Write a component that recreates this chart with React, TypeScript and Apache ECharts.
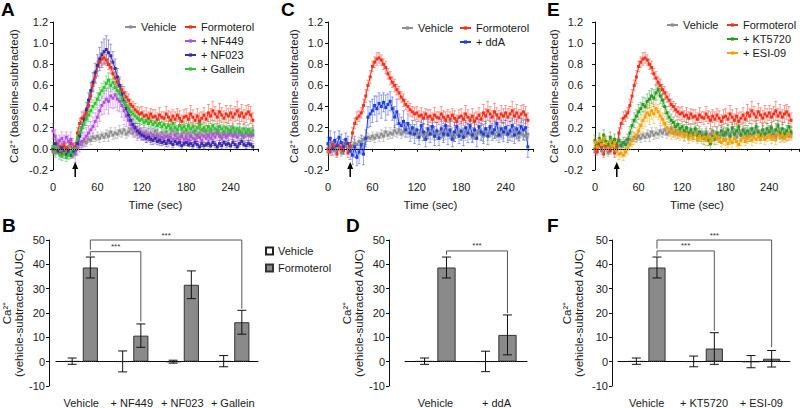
import React, { useEffect, useRef } from "react";
import * as echarts from "echarts";

// ---------- time-course data (Ca2+, baseline-subtracted) ----------
const timeSec = [
  0, 3, 6, 9, 12, 15, 18, 21, 24, 27,
  30, 33, 36, 39, 42, 45, 48, 51, 54, 57,
  60, 63, 66, 69, 72, 75, 78, 81, 84, 87,
  90, 93, 96, 99, 102, 105, 108, 111, 114, 117,
  120, 123, 126, 129, 132, 135, 138, 141, 144, 147,
  150, 153, 156, 159, 162, 165, 168, 171, 174, 177,
  180, 183, 186, 189, 192, 195, 198, 201, 204, 207,
  210, 213, 216, 219, 222, 225, 228, 231, 234, 237,
  240, 243, 246, 249, 252, 255, 258, 261, 264, 267,
  270,
];

const vehicle = [
  -0.03, 0.02, 0.05, -0.02, 0.03, 0.0, -0.04, 0.02, 0.04, -0.01,
  0.0, 0.03, 0.05, 0.04, 0.07, 0.06, 0.09, 0.08, 0.11, 0.1,
  0.12, 0.1, 0.13, 0.11, 0.14, 0.12, 0.16, 0.13, 0.15, 0.14,
  0.17, 0.15, 0.18, 0.14, 0.16, 0.19, 0.15, 0.17, 0.14, 0.16,
  0.15, 0.13, 0.16, 0.12, 0.15, 0.13, 0.17, 0.14, 0.12, 0.15,
  0.13, 0.16, 0.12, 0.14, 0.17, 0.13, 0.15, 0.11, 0.14, 0.16,
  0.13, 0.15, 0.12, 0.16, 0.14, 0.11, 0.15, 0.13, 0.17, 0.14,
  0.12, 0.16, 0.13, 0.15, 0.18, 0.14, 0.12, 0.16, 0.13, 0.15,
  0.17, 0.13, 0.15, 0.12, 0.16, 0.14, 0.11, 0.15, 0.13, 0.12,
  0.14,
];
const vehicleErr = [
  0.03, 0.04, 0.03, 0.03, 0.04, 0.03, 0.03, 0.04, 0.03, 0.03,
  0.03, 0.04, 0.04, 0.03, 0.04, 0.04, 0.03, 0.04, 0.04, 0.03,
  0.04, 0.04, 0.03, 0.04, 0.04, 0.05, 0.04, 0.04, 0.05, 0.04,
  0.05, 0.04, 0.05, 0.04, 0.04, 0.05, 0.04, 0.05, 0.04, 0.04,
  0.04, 0.05, 0.04, 0.04, 0.05, 0.04, 0.04, 0.05, 0.04, 0.04,
  0.04, 0.05, 0.04, 0.05, 0.04, 0.04, 0.05, 0.04, 0.04, 0.05,
  0.04, 0.05, 0.04, 0.04, 0.05, 0.04, 0.05, 0.04, 0.04, 0.05,
  0.05, 0.04, 0.05, 0.04, 0.05, 0.04, 0.04, 0.05, 0.04, 0.05,
  0.04, 0.05, 0.04, 0.05, 0.04, 0.05, 0.04, 0.04, 0.05, 0.04,
  0.04,
];

const formoterol = [
  0.0, -0.03, 0.04, 0.02, -0.05, 0.03, 0.01, -0.02, 0.05, -0.04,
  0.02, 0.15, 0.24, 0.29, 0.31, 0.34, 0.41, 0.5, 0.6, 0.68,
  0.78, 0.82, 0.85, 0.86, 0.84, 0.8, 0.77, 0.71, 0.67, 0.63,
  0.6, 0.56, 0.53, 0.49, 0.46, 0.42, 0.4, 0.37, 0.35, 0.33,
  0.34, 0.31, 0.32, 0.29, 0.33, 0.3, 0.31, 0.28, 0.32, 0.3,
  0.29, 0.33, 0.3, 0.27, 0.31, 0.28, 0.32, 0.29, 0.26, 0.3,
  0.31, 0.28, 0.33, 0.3, 0.27, 0.31, 0.26, 0.29, 0.32, 0.28,
  0.34, 0.31, 0.36, 0.33, 0.3, 0.35, 0.32, 0.29, 0.33, 0.31,
  0.34, 0.3, 0.33, 0.36, 0.31, 0.34, 0.3, 0.33, 0.35, 0.32,
  0.27,
];
const formoterolErr = [
  0.03, 0.03, 0.03, 0.04, 0.03, 0.03, 0.04, 0.03, 0.03, 0.04,
  0.04, 0.05, 0.05, 0.06, 0.05, 0.05, 0.06, 0.06, 0.05, 0.06,
  0.05, 0.05, 0.06, 0.05, 0.05, 0.05, 0.06, 0.05, 0.06, 0.05,
  0.06, 0.05, 0.06, 0.05, 0.06, 0.05, 0.05, 0.06, 0.05, 0.06,
  0.06, 0.05, 0.07, 0.06, 0.05, 0.07, 0.06, 0.06, 0.07, 0.05,
  0.06, 0.07, 0.06, 0.08, 0.06, 0.07, 0.06, 0.07, 0.06, 0.07,
  0.07, 0.06, 0.08, 0.07, 0.06, 0.07, 0.08, 0.06, 0.07, 0.06,
  0.08, 0.07, 0.09, 0.07, 0.06, 0.08, 0.07, 0.07, 0.08, 0.07,
  0.07, 0.08, 0.07, 0.09, 0.07, 0.08, 0.07, 0.08, 0.07, 0.08,
  0.07,
];

const nf449 = [
  0.17, 0.12, 0.03, 0.08, 0.1, 0.06, 0.11, 0.07, 0.09, 0.04,
  -0.05, 0.0, 0.04, 0.07, 0.09, 0.12, 0.15, 0.18, 0.21, 0.26,
  0.3, 0.36, 0.41, 0.44, 0.47, 0.45, 0.5, 0.48, 0.51, 0.47,
  0.45, 0.41, 0.36, 0.31, 0.27, 0.23, 0.21, 0.18, 0.16, 0.17,
  0.14, 0.15, 0.12, 0.13, 0.11, 0.13, 0.1, 0.12, 0.09, 0.11,
  0.1, 0.12, 0.08, 0.11, 0.09, 0.13, 0.1, 0.08, 0.12, 0.09,
  0.11, 0.08, 0.12, 0.1, 0.09, 0.13, 0.11, 0.08, 0.12, 0.1,
  0.13, 0.1, 0.14, 0.11, 0.15, 0.12, 0.1, 0.14, 0.11, 0.13,
  0.15, 0.12, 0.14, 0.11, 0.16, 0.13, 0.12, 0.15, 0.13, 0.14,
  0.13,
];
const nf449Err = [
  0.07, 0.06, 0.07, 0.05, 0.06, 0.07, 0.05, 0.06, 0.07, 0.06,
  0.08, 0.06, 0.07, 0.06, 0.07, 0.08, 0.07, 0.08, 0.09, 0.08,
  0.09, 0.1, 0.09, 0.11, 0.1, 0.12, 0.11, 0.1, 0.12, 0.11,
  0.1, 0.11, 0.09, 0.1, 0.08, 0.09, 0.08, 0.07, 0.08, 0.07,
  0.06, 0.07, 0.06, 0.06, 0.07, 0.06, 0.05, 0.06, 0.06, 0.05,
  0.06, 0.05, 0.06, 0.06, 0.05, 0.06, 0.05, 0.06, 0.05, 0.06,
  0.06, 0.05, 0.06, 0.05, 0.06, 0.06, 0.05, 0.06, 0.05, 0.06,
  0.06, 0.07, 0.06, 0.05, 0.07, 0.06, 0.06, 0.07, 0.06, 0.05,
  0.06, 0.07, 0.06, 0.06, 0.07, 0.06, 0.05, 0.07, 0.06, 0.06,
  0.06,
];

const nf023 = [
  0.0, 0.05, -0.02, -0.04, 0.01, -0.03, -0.05, -0.02, -0.06, -0.03,
  -0.01, 0.05, 0.12, 0.2, 0.28, 0.37, 0.46, 0.55, 0.63, 0.72,
  0.79, 0.85, 0.89, 0.92, 0.94, 0.91, 0.88, 0.82, 0.76, 0.68,
  0.6, 0.52, 0.45, 0.38, 0.32, 0.27, 0.23, 0.2, 0.17, 0.15,
  0.13, 0.12, 0.1, 0.11, 0.09, 0.08, 0.1, 0.07, 0.08, 0.06,
  0.07, 0.05, 0.08, 0.06, 0.04, 0.07, 0.05, 0.06, 0.03, 0.05,
  0.06, 0.04, 0.05, 0.03, 0.06, 0.04, 0.02, 0.05, 0.03, 0.04,
  0.05, 0.03, 0.06, 0.04, 0.02, 0.05, 0.03, 0.06, 0.04, 0.05,
  0.03, 0.06, 0.04, 0.02, 0.05, 0.07, 0.04, 0.03, 0.05, 0.04,
  0.02,
];
const nf023Err = [
  0.03, 0.04, 0.03, 0.03, 0.04, 0.03, 0.04, 0.03, 0.03, 0.04,
  0.03, 0.04, 0.05, 0.05, 0.06, 0.07, 0.07, 0.08, 0.09, 0.09,
  0.1, 0.11, 0.12, 0.12, 0.13, 0.12, 0.11, 0.1, 0.09, 0.08,
  0.08, 0.07, 0.06, 0.06, 0.05, 0.05, 0.05, 0.04, 0.04, 0.04,
  0.04, 0.03, 0.04, 0.03, 0.03, 0.04, 0.03, 0.03, 0.03, 0.03,
  0.03, 0.03, 0.03, 0.02, 0.03, 0.03, 0.02, 0.03, 0.03, 0.02,
  0.03, 0.02, 0.03, 0.03, 0.02, 0.03, 0.02, 0.03, 0.03, 0.02,
  0.03, 0.02, 0.03, 0.03, 0.02, 0.03, 0.03, 0.02, 0.03, 0.03,
  0.02, 0.03, 0.03, 0.02, 0.03, 0.03, 0.02, 0.03, 0.03, 0.02,
  0.03,
];

const gallein = [
  0.02, -0.03, 0.01, -0.05, -0.07, -0.04, -0.08, -0.06, -0.03, -0.05,
  0.0, 0.1, 0.16, 0.2, 0.24, 0.28, 0.32, 0.36, 0.4, 0.43,
  0.47, 0.52, 0.55, 0.58, 0.62, 0.65, 0.6, 0.63, 0.58, 0.55,
  0.52, 0.48, 0.44, 0.41, 0.38, 0.35, 0.33, 0.31, 0.29, 0.27,
  0.28, 0.25, 0.27, 0.24, 0.26, 0.23, 0.25, 0.22, 0.24, 0.21,
  0.23, 0.2, 0.22, 0.19, 0.24, 0.2, 0.18, 0.22, 0.19, 0.21,
  0.18, 0.22, 0.19, 0.21, 0.17, 0.2, 0.23, 0.18, 0.2, 0.17,
  0.21, 0.18, 0.22, 0.19, 0.17, 0.21, 0.19, 0.16, 0.2, 0.18,
  0.17, 0.2, 0.16, 0.19, 0.17, 0.15, 0.19, 0.16, 0.18, 0.15,
  0.17,
];
const galleinErr = [
  0.04, 0.05, 0.04, 0.05, 0.04, 0.05, 0.04, 0.04, 0.05, 0.04,
  0.05, 0.05, 0.05, 0.06, 0.05, 0.06, 0.06, 0.05, 0.06, 0.06,
  0.06, 0.06, 0.07, 0.06, 0.07, 0.07, 0.06, 0.07, 0.06, 0.06,
  0.06, 0.06, 0.05, 0.06, 0.05, 0.05, 0.06, 0.05, 0.05, 0.05,
  0.05, 0.05, 0.04, 0.05, 0.05, 0.04, 0.05, 0.05, 0.04, 0.05,
  0.05, 0.04, 0.05, 0.04, 0.05, 0.05, 0.04, 0.05, 0.04, 0.05,
  0.04, 0.05, 0.05, 0.04, 0.05, 0.04, 0.05, 0.05, 0.04, 0.05,
  0.05, 0.04, 0.05, 0.05, 0.04, 0.05, 0.04, 0.05, 0.05, 0.04,
  0.05, 0.04, 0.05, 0.05, 0.04, 0.05, 0.05, 0.04, 0.05, 0.04,
  0.05,
];

const ddA = [
  0.05, 0.1, 0.0, 0.08, 0.03, 0.11, 0.06, 0.02, 0.09, 0.05,
  -0.02, -0.06, 0.02, -0.08, -0.03, 0.04, -0.05, 0.1, 0.3, 0.33,
  0.36, 0.41, 0.38, 0.43, 0.4, 0.44, 0.39, 0.42, 0.45, 0.38,
  0.3, 0.35, 0.24, 0.22, 0.26, 0.18, 0.24, 0.15, 0.2, 0.14,
  0.18, 0.11, 0.22, 0.16, 0.09, 0.19, 0.14, 0.21, 0.12, 0.17,
  0.1, 0.19, 0.14, 0.22, 0.13, 0.18, 0.09, 0.16, 0.21, 0.12,
  0.17, 0.11, 0.2, 0.15, 0.22, 0.13, 0.18, 0.1, 0.21, 0.16,
  0.14, 0.19, 0.12, 0.21, 0.15, 0.18, 0.24, 0.13, 0.19, 0.16,
  0.2, 0.14, 0.17, 0.22, 0.13, 0.19, 0.15, 0.21, 0.18, 0.2,
  0.02,
];
const ddAErr = [
  0.06, 0.07, 0.06, 0.08, 0.07, 0.06, 0.08, 0.07, 0.06, 0.07,
  0.08, 0.09, 0.1, 0.08, 0.11, 0.09, 0.1, 0.08, 0.1, 0.12,
  0.11, 0.09, 0.12, 0.1, 0.11, 0.09, 0.12, 0.1, 0.09, 0.11,
  0.1, 0.12, 0.09, 0.08, 0.1, 0.07, 0.09, 0.08, 0.07, 0.09,
  0.08, 0.07, 0.09, 0.08, 0.07, 0.09, 0.08, 0.07, 0.09, 0.08,
  0.07, 0.09, 0.08, 0.07, 0.09, 0.08, 0.07, 0.09, 0.08, 0.07,
  0.09, 0.08, 0.07, 0.09, 0.08, 0.07, 0.09, 0.08, 0.07, 0.08,
  0.09, 0.07, 0.08, 0.09, 0.07, 0.08, 0.09, 0.07, 0.08, 0.09,
  0.07, 0.08, 0.09, 0.07, 0.08, 0.09, 0.07, 0.08, 0.09, 0.08,
  0.1,
];

const kt5720 = [
  0.08, 0.03, 0.1, 0.05, 0.13, 0.07, 0.04, 0.11, 0.06, 0.09,
  0.05, 0.08, 0.03, 0.06, 0.04, 0.09, 0.15, 0.22, 0.27, 0.31,
  0.35, 0.38, 0.42, 0.4, 0.45, 0.47, 0.5, 0.48, 0.53, 0.56,
  0.5, 0.46, 0.4, 0.34, 0.3, 0.27, 0.25, 0.21, 0.23, 0.19,
  0.21, 0.17, 0.2, 0.15, 0.18, 0.14, 0.19, 0.13, 0.16, 0.12,
  0.1, 0.14, 0.08, 0.05, 0.12, 0.09, 0.15, 0.11, 0.17, 0.13,
  0.15, 0.18, 0.12, 0.2, 0.14, 0.17, 0.21, 0.13, 0.18, 0.15,
  0.17, 0.13, 0.19, 0.15, 0.21, 0.16, 0.13, 0.18, 0.14, 0.19,
  0.16, 0.2, 0.13, 0.18, 0.22, 0.15, 0.19, 0.14, 0.17, 0.21,
  0.16,
];
const kt5720Err = [
  0.05, 0.04, 0.05, 0.04, 0.05, 0.05, 0.04, 0.05, 0.04, 0.05,
  0.04, 0.05, 0.04, 0.05, 0.05, 0.05, 0.06, 0.06, 0.07, 0.06,
  0.07, 0.06, 0.07, 0.08, 0.07, 0.08, 0.07, 0.08, 0.07, 0.06,
  0.07, 0.06, 0.07, 0.06, 0.05, 0.06, 0.05, 0.06, 0.05, 0.05,
  0.05, 0.06, 0.05, 0.05, 0.06, 0.05, 0.05, 0.06, 0.05, 0.05,
  0.06, 0.05, 0.05, 0.06, 0.05, 0.05, 0.06, 0.05, 0.05, 0.06,
  0.05, 0.05, 0.06, 0.05, 0.05, 0.06, 0.05, 0.05, 0.06, 0.05,
  0.05, 0.06, 0.05, 0.05, 0.06, 0.05, 0.05, 0.06, 0.05, 0.05,
  0.06, 0.05, 0.05, 0.06, 0.05, 0.05, 0.06, 0.05, 0.05, 0.06,
  0.05,
];

const esi09 = [
  0.06, 0.02, 0.08, 0.04, 0.1, 0.05, 0.01, 0.07, 0.03, 0.06,
  -0.02, -0.05, -0.04, -0.06, -0.03, 0.0, 0.04, 0.08, 0.1, 0.13,
  0.17, 0.22, 0.27, 0.3, 0.34, 0.32, 0.36, 0.33, 0.38, 0.35,
  0.31, 0.28, 0.24, 0.2, 0.18, 0.15, 0.17, 0.14, 0.16, 0.13,
  0.15, 0.12, 0.14, 0.1, 0.13, 0.11, 0.14, 0.09, 0.12, 0.1,
  0.11, 0.08, 0.12, 0.07, 0.1, 0.13, 0.09, 0.11, 0.06, 0.09,
  0.08, 0.05, 0.09, 0.06, 0.1, 0.07, 0.04, 0.08, 0.11, 0.07,
  0.1, 0.12, 0.08, 0.11, 0.09, 0.13, 0.1, 0.12, 0.09, 0.11,
  0.13, 0.1, 0.12, 0.09, 0.14, 0.11, 0.13, 0.1, 0.12, 0.14,
  0.12,
];
const esi09Err = [
  0.05, 0.04, 0.05, 0.05, 0.04, 0.05, 0.04, 0.05, 0.05, 0.04,
  0.05, 0.05, 0.04, 0.05, 0.04, 0.05, 0.05, 0.06, 0.06, 0.07,
  0.07, 0.08, 0.08, 0.09, 0.08, 0.09, 0.08, 0.09, 0.08, 0.07,
  0.07, 0.06, 0.07, 0.06, 0.05, 0.06, 0.05, 0.05, 0.06, 0.05,
  0.05, 0.05, 0.04, 0.05, 0.05, 0.04, 0.05, 0.04, 0.05, 0.05,
  0.04, 0.05, 0.05, 0.04, 0.05, 0.04, 0.05, 0.05, 0.04, 0.05,
  0.05, 0.04, 0.05, 0.05, 0.04, 0.05, 0.04, 0.05, 0.05, 0.04,
  0.05, 0.04, 0.05, 0.05, 0.04, 0.05, 0.05, 0.04, 0.05, 0.04,
  0.05, 0.05, 0.04, 0.05, 0.04, 0.05, 0.05, 0.04, 0.05, 0.05,
  0.04,
];

const stimulusSec = 30;

// ---------- AUC bar data ----------
const catsB = ["Vehicle", "+ NF449", "+ NF023", "+ Gallein"];
const vehB = [0.2, 0.1, 0.0, 0.2];
const vehErrB = [1.3, 4.3, 0.6, 2.3];
const formB = [38.7, 10.7, 31.6, 16.2];
const formErrB = [4.3, 4.8, 5.7, 4.9];

const catsD = ["Vehicle", "+ ddA"];
const vehD = [0.2, 0.1];
const vehErrD = [1.3, 4.2];
const formD = [38.7, 11.0];
const formErrD = [4.3, 8.2];

const catsF = ["Vehicle", "+ KT5720", "+ ESI-09"];
const vehF = [0.2, 0.1, 0.0];
const vehErrF = [1.3, 2.2, 2.5];
const formF = [38.7, 5.4, 1.2];
const formErrF = [4.3, 6.5, 3.4];

// significance brackets: [leftCat, level, rightCat, leftDrop, rightDrop]
const bracketsB = [
  [0, 45.2, 1, 43.5, 16.5],
  [0, 50, 3, 46, 21.8],
];
const bracketsD = [[0, 45.5, 1, 44, 20]];
const bracketsF = [
  [0, 45.5, 1, 43.5, 12.7],
  [0, 50, 2, 46.5, 6],
];

// ---------- styles ----------
const FONT = 'Arial, "Liberation Sans", Helvetica, sans-serif';
const INK = "#1a1a1a";
const C = {
  vehicle: "#8f8f8f",
  formoterol: "#f2311d",
  nf449: "#b64fe2",
  nf023: "#3b2fa6",
  gallein: "#2dc52d",
  ddA: "#1f3ee0",
  kt5720: "#2a9a22",
  esi09: "#f4a100",
};

function fade(hex: string, a: number) {
  const r = parseInt(hex.slice(1, 3), 16);
  const g = parseInt(hex.slice(3, 5), 16);
  const b = parseInt(hex.slice(5, 7), 16);
  return `rgba(${r},${g},${b},${a})`;
}

function lineSeries(name: string, vals: number[], color: string, gi: number, z: number, extra: any = {}) {
  return {
    type: "line",
    name,
    xAxisIndex: gi,
    yAxisIndex: gi,
    data: timeSec.map((t, i) => [t, vals[i]]),
    symbol: "rect",
    symbolSize: 3,
    lineStyle: { width: 1, color },
    itemStyle: { color },
    z,
    silent: true,
    ...extra,
  };
}

function errSeries(vals: number[], errs: number[], color: string, gi: number, z: number) {
  const stroke = fade(color, 0.45);
  return {
    type: "custom",
    xAxisIndex: gi,
    yAxisIndex: gi,
    silent: true,
    z,
    data: timeSec.map((t, i) => [t, vals[i], errs[i]]),
    renderItem: (params: any, api: any) => {
      const t = api.value(0);
      const v = api.value(1);
      const e = api.value(2);
      const top = api.coord([t, v + e]);
      const bot = api.coord([t, v - e]);
      const s = { stroke, lineWidth: 1 };
      return {
        type: "group",
        children: [
          { type: "line", shape: { x1: top[0], y1: top[1], x2: bot[0], y2: bot[1] }, style: s },
          { type: "line", shape: { x1: top[0] - 1.5, y1: top[1], x2: top[0] + 1.5, y2: top[1] }, style: s },
          { type: "line", shape: { x1: bot[0] - 1.5, y1: bot[1], x2: bot[0] + 1.5, y2: bot[1] }, style: s },
        ],
      };
    },
  };
}

function arrowSeries(gi: number) {
  return {
    type: "custom",
    xAxisIndex: gi,
    yAxisIndex: gi,
    silent: true,
    clip: false,
    z: 10,
    data: [[stimulusSec, -0.2]],
    renderItem: (params: any, api: any) => {
      const p = api.coord([api.value(0), api.value(1)]);
      const x = p[0];
      const yb = p[1] + 7;
      const yt = p[1] - 8;
      return {
        type: "group",
        children: [
          { type: "line", shape: { x1: x, y1: yb, x2: x, y2: yt + 5 }, style: { stroke: "#000", lineWidth: 1.5 } },
          { type: "polygon", shape: { points: [[x, yt], [x - 3, yt + 7], [x + 3, yt + 7]] }, style: { fill: "#000" } },
        ],
      };
    },
  };
}

const zeroLine = {
  silent: true,
  symbol: "none",
  label: { show: false },
  lineStyle: { type: "dotted", color: "#000", width: 1 },
  data: [{ yAxis: 0 }],
};

function barSeriesPair(gi: number, veh: number[], form: number[]) {
  return [
    {
      type: "bar",
      name: "Vehicle (bar)",
      xAxisIndex: gi,
      yAxisIndex: gi,
      data: veh,
      barWidth: "30%",
      barGap: "20%",
      itemStyle: { color: "#ffffff", borderColor: "#222", borderWidth: 1 },
      silent: true,
      z: 2,
      markLine: zeroLine,
    },
    {
      type: "bar",
      name: "Formoterol (bar)",
      xAxisIndex: gi,
      yAxisIndex: gi,
      data: form,
      barWidth: "30%",
      barGap: "20%",
      itemStyle: { color: "#8a8a8a", borderColor: "#333", borderWidth: 1 },
      silent: true,
      z: 2,
    },
  ];
}

function barErrSeries(gi: number, veh: number[], vehErr: number[], form: number[], formErr: number[]) {
  const data: number[][] = [];
  veh.forEach((m, i) => data.push([i, m, vehErr[i], -1]));
  form.forEach((m, i) => data.push([i, m, formErr[i], 1]));
  return {
    type: "custom",
    xAxisIndex: gi,
    yAxisIndex: gi,
    silent: true,
    z: 5,
    data,
    renderItem: (params: any, api: any) => {
      const c = api.value(0);
      const m = api.value(1);
      const e = api.value(2);
      const side = api.value(3);
      const band = api.size([1, 0])[0];
      const top = api.coord([c, m + e]);
      const bot = api.coord([c, m - e]);
      const x = top[0] + side * 0.18 * band;
      const cap = 4.5;
      const s = { stroke: "#111", lineWidth: 1 };
      return {
        type: "group",
        children: [
          { type: "line", shape: { x1: x, y1: top[1], x2: x, y2: bot[1] }, style: s },
          { type: "line", shape: { x1: x - cap, y1: top[1], x2: x + cap, y2: top[1] }, style: s },
          { type: "line", shape: { x1: x - cap, y1: bot[1], x2: x + cap, y2: bot[1] }, style: s },
        ],
      };
    },
  };
}

function bracketSeries(gi: number, rows: number[][]) {
  return {
    type: "custom",
    xAxisIndex: gi,
    yAxisIndex: gi,
    silent: true,
    clip: false,
    z: 6,
    data: rows,
    renderItem: (params: any, api: any) => {
      const l = api.value(0);
      const level = api.value(1);
      const r = api.value(2);
      const dl = api.value(3);
      const dr = api.value(4);
      const band = api.size([1, 0])[0];
      const off = 0.18 * band;
      const pl = api.coord([l, level]);
      const pr = api.coord([r, level]);
      const xl = pl[0] + off;
      const xr = pr[0] + off;
      const yl = api.coord([l, dl])[1];
      const yr = api.coord([r, dr])[1];
      return {
        type: "group",
        children: [
          {
            type: "polyline",
            shape: { points: [[xl, yl], [xl, pl[1]], [xr, pr[1]], [xr, yr]] },
            style: { stroke: "#555", lineWidth: 1, fill: null },
          },
          {
            type: "text",
            style: {
              text: "***",
              x: (xl + xr) / 2,
              y: pl[1] - 1,
              align: "center",
              verticalAlign: "bottom",
              fontSize: 8,
              fontFamily: FONT,
              fill: "#333",
            },
          },
        ],
      };
    },
  };
}

const lineGrids = [
  { left: 53, top: 22, width: 205, height: 148 },
  { left: 328, top: 22, width: 205, height: 148 },
  { left: 595, top: 22, width: 204, height: 148 },
];
const barGrids = [
  { left: 56, top: 240, width: 202, height: 147 },
  { left: 405, top: 240, width: 122, height: 147 },
  { left: 618, top: 240, width: 172, height: 147 },
];
const lineXMax = [277, 277, 281];
const lineYOffset = [1, 1, 8];
const lineYNameGap = [32, 24, 18];
const barYOffset = [7, 16, 6];
const barYNameGap = [22, 17, 27];
const barCats = [catsB, catsD, catsF];

const axisLabelStyle = { color: INK, fontSize: 11, fontFamily: FONT };
const axisLineStyle = { lineStyle: { color: "#111", width: 1 } };

function buildOption() {
  const xAxis: any[] = [];
  const yAxis: any[] = [];
  lineGrids.forEach((g, i) => {
    xAxis.push({
      type: "value",
      gridIndex: i,
      min: 0,
      max: lineXMax[i],
      interval: 60,
      offset: 7,
      axisLine: axisLineStyle,
      axisTick: { show: true, length: 3, lineStyle: { color: "#111" } },
      minorTick: { show: true, splitNumber: 2, length: 2, lineStyle: { color: "#111" } },
      splitLine: { show: false },
      axisLabel: { ...axisLabelStyle, margin: 4, showMaxLabel: false },
      name: "Time (sec)",
      nameLocation: "middle",
      nameGap: 22,
      nameTextStyle: { color: INK, fontSize: 11.5, fontFamily: FONT },
    });
    yAxis.push({
      type: "value",
      gridIndex: i,
      min: -0.2,
      max: 1.2,
      interval: 0.2,
      offset: lineYOffset[i],
      axisLine: { show: true, ...axisLineStyle },
      axisTick: { show: true, length: 3, lineStyle: { color: "#111" } },
      splitLine: { show: false },
      axisLabel: { ...axisLabelStyle, margin: 4, formatter: (v: number) => v.toFixed(1) },
      name: "Ca²⁺ (baseline-subtracted)",
      nameLocation: "middle",
      nameRotate: 90,
      nameGap: lineYNameGap[i],
      nameTextStyle: { color: INK, fontSize: 11.5, fontFamily: FONT },
    });
  });
  barGrids.forEach((g, i) => {
    xAxis.push({
      type: "category",
      gridIndex: 3 + i,
      data: barCats[i],
      offset: 6,
      axisLine: axisLineStyle,
      axisTick: { show: false },
      axisLabel: { ...axisLabelStyle, margin: 5, interval: 0 },
    });
    yAxis.push({
      type: "value",
      gridIndex: 3 + i,
      min: -10,
      max: 50,
      interval: 10,
      offset: barYOffset[i],
      axisLine: { show: true, ...axisLineStyle },
      axisTick: { show: true, length: 3, lineStyle: { color: "#111" } },
      splitLine: { show: false },
      axisLabel: { ...axisLabelStyle, margin: 4 },
      name: "Ca²⁺\n(vehicle-subtracted AUC)",
      nameLocation: "middle",
      nameRotate: 90,
      nameGap: barYNameGap[i],
      nameTextStyle: { color: INK, fontSize: 11.5, fontFamily: FONT, lineHeight: 12 },
    });
  });

  const series: any[] = [
    // Panel A
    errSeries(vehicle, vehicleErr, C.vehicle, 0, 1),
    errSeries(formoterol, formoterolErr, C.formoterol, 0, 1),
    errSeries(nf449, nf449Err, C.nf449, 0, 1),
    errSeries(nf023, nf023Err, C.nf023, 0, 1),
    errSeries(gallein, galleinErr, C.gallein, 0, 1),
    lineSeries("Vehicle", vehicle, C.vehicle, 0, 2, { markLine: zeroLine }),
    lineSeries("Formoterol", formoterol, C.formoterol, 0, 2),
    lineSeries("+ NF449", nf449, C.nf449, 0, 2),
    lineSeries("+ NF023", nf023, C.nf023, 0, 2),
    lineSeries("+ Gallein", gallein, C.gallein, 0, 2),
    arrowSeries(0),
    // Panel C
    errSeries(vehicle, vehicleErr, C.vehicle, 1, 1),
    errSeries(formoterol, formoterolErr, C.formoterol, 1, 1),
    errSeries(ddA, ddAErr, C.ddA, 1, 1),
    lineSeries("Vehicle", vehicle, C.vehicle, 1, 2, { markLine: zeroLine }),
    lineSeries("Formoterol", formoterol, C.formoterol, 1, 2),
    lineSeries("+ ddA", ddA, C.ddA, 1, 2),
    arrowSeries(1),
    // Panel E
    errSeries(vehicle, vehicleErr, C.vehicle, 2, 1),
    errSeries(formoterol, formoterolErr, C.formoterol, 2, 1),
    errSeries(kt5720, kt5720Err, C.kt5720, 2, 1),
    errSeries(esi09, esi09Err, C.esi09, 2, 1),
    lineSeries("Vehicle", vehicle, C.vehicle, 2, 2, { markLine: zeroLine }),
    lineSeries("Formoterol", formoterol, C.formoterol, 2, 2),
    lineSeries("+ KT5720", kt5720, C.kt5720, 2, 2),
    lineSeries("+ ESI-09", esi09, C.esi09, 2, 2),
    arrowSeries(2),
    // Panel B
    ...barSeriesPair(3, vehB, formB),
    barErrSeries(3, vehB, vehErrB, formB, formErrB),
    bracketSeries(3, bracketsB),
    // Panel D
    ...barSeriesPair(4, vehD, formD),
    barErrSeries(4, vehD, vehErrD, formD, formErrD),
    bracketSeries(4, bracketsD),
    // Panel F
    ...barSeriesPair(5, vehF, formF),
    barErrSeries(5, vehF, vehErrF, formF, formErrF),
    bracketSeries(5, bracketsF),
  ];

  const legendBase = {
    orient: "vertical",
    selectedMode: false,
    itemWidth: 11,
    itemHeight: 4,
    itemGap: 2,
    padding: 0,
    textStyle: { color: INK, fontSize: 11, fontFamily: FONT, lineHeight: 12 },
  };
  const legend = [
    { ...legendBase, data: ["Vehicle"], left: 124, top: 21 },
    { ...legendBase, data: ["Formoterol", "+ NF449", "+ NF023", "+ Gallein"], left: 184, top: 21 },
    { ...legendBase, data: ["Vehicle"], left: 401, top: 22 },
    { ...legendBase, data: ["Formoterol", "+ ddA"], left: 459, top: 22 },
    { ...legendBase, data: ["Vehicle"], left: 666, top: 19 },
    { ...legendBase, data: ["Formoterol", "+ KT5720", "+ ESI-09"], left: 726, top: 19 },
    {
      ...legendBase,
      data: ["Vehicle (bar)", "Formoterol (bar)"],
      left: 265,
      top: 245,
      icon: "rect",
      itemWidth: 7,
      itemHeight: 7,
      itemGap: 5,
      formatter: (n: string) => n.replace(" (bar)", ""),
    },
  ];

  const letter = (t: string, left: number, top: number) => ({
    type: "text",
    left,
    top,
    style: { text: t, font: `bold 19px ${FONT}`, fill: "#000" },
  });

  return {
    animation: false,
    backgroundColor: "#ffffff",
    textStyle: { fontFamily: FONT },
    grid: [...lineGrids, ...barGrids],
    xAxis,
    yAxis,
    legend,
    series,
    graphic: [
      letter("A", 1, 0),
      letter("B", 2, 216),
      letter("C", 281, 0),
      letter("D", 346, 216),
      letter("E", 547, 0),
      letter("F", 547, 216),
    ],
  };
}

export default function App() {
  const ref = useRef<HTMLDivElement>(null);
  useEffect(() => {
    if (!ref.current) return;
    const chart = echarts.init(ref.current, undefined, { renderer: "svg" });
    chart.setOption(buildOption() as any);
    return () => chart.dispose();
  }, []);
  return (
    <div
      ref={ref}
      style={{ position: "absolute", left: 0, top: 0, width: 800, height: 408, background: "#fff" }}
    />
  );
}
